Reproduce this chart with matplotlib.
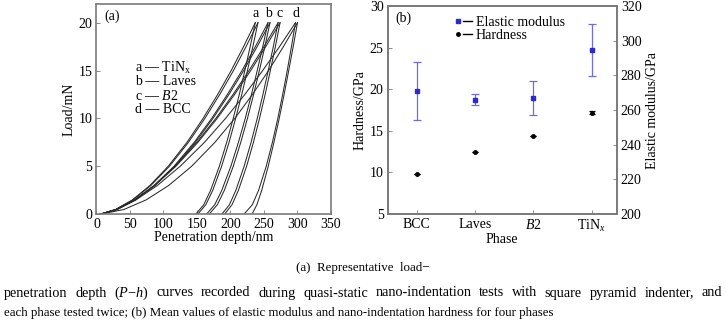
import matplotlib
matplotlib.use("Agg")
import matplotlib.pyplot as plt
from matplotlib.lines import Line2D
from matplotlib.legend_handler import HandlerTuple

plt.rcParams['font.family'] = ['Liberation Serif', 'DejaVu Serif']
plt.rcParams['mathtext.fontset'] = 'custom'
plt.rcParams['mathtext.rm'] = 'Liberation Serif'
plt.rcParams['mathtext.it'] = 'Liberation Serif:italic'
plt.rcParams['font.size'] = 10

# ---------------- Panel (a) data: load-depth curves ----------------
load_P = [0, 0.5, 1.5, 3, 5, 7.5, 10, 12.5, 15, 17.5, 20]
load_a1 = [5, 28.4, 53.5, 79.6, 106.9, 134.9, 159.0, 180.8, 201.0, 219.5, 237]
load_a2 = [5, 28.9, 54.4, 81.0, 108.7, 137.1, 161.7, 183.9, 204.4, 223.2, 241]
load_b1 = [5, 30.7, 57.8, 86.0, 115.5, 145.7, 171.8, 195.3, 217.1, 237.1, 256]
load_b2 = [5, 31.1, 58.4, 87.0, 116.8, 147.4, 173.8, 197.6, 219.6, 239.8, 259]
load_c1 = [5, 29.0, 56.4, 85.9, 117.1, 149.6, 178.0, 203.8, 227.6, 249.9, 271]
load_c2 = [5, 29.3, 57.0, 86.9, 118.4, 151.2, 180.0, 206.0, 230.2, 252.6, 274]
load_d1 = [5, 29.6, 58.8, 90.6, 124.7, 161.0, 192.5, 221.3, 248.0, 273.2, 297]
load_d2 = [5, 40.8, 74.0, 107.6, 141.8, 176.6, 206.3, 232.7, 256.8, 279.0, 300]

unload_P = [0, 1, 2.5, 5, 7.5, 10, 12.5, 15, 17.5, 20]
unload_a1 = [148, 160.1, 170.3, 183.3, 194.3, 204.1, 213.1, 221.4, 229.4, 237]
unload_a2 = [151, 163.2, 173.5, 186.7, 197.8, 207.7, 216.8, 225.3, 233.4, 241]
unload_b1 = [164, 176.5, 187.0, 200.5, 211.8, 222.0, 231.3, 239.9, 248.2, 256]
unload_b2 = [168, 180.4, 190.8, 204.1, 215.3, 225.3, 234.5, 243.1, 251.3, 259]
unload_c1 = [187, 198.4, 208.0, 220.3, 230.7, 239.9, 248.4, 256.3, 263.9, 271]
unload_c2 = [191, 202.3, 211.8, 224.0, 234.2, 243.3, 251.7, 259.5, 267.0, 274]
unload_d1 = [220, 232.6, 241.9, 253.3, 262.5, 270.6, 277.9, 284.7, 291.0, 297]
unload_d2 = [232, 239.4, 246.6, 256.3, 264.8, 272.7, 280.0, 286.9, 293.6, 300]

curve_letters = ['a', 'b', 'c', 'd']
letter_h = [238, 257, 273, 298]
legend_a = ['a — TiN$_\\mathregular{x}$', 'b — Laves', 'c — $\\it{B}$2', 'd — BCC']

# ---------------- Panel (b) data ----------------
phases = ['BCC', 'Laves', '$\\it{B}$2', 'TiN$_{\\it{x}}$']
modulus = [271, 266, 267, 294.6]
modulus_err = [16.5, 3.3, 10, 15]
hardness = [9.78, 12.5, 14.4, 17.17]
hardness_err = [0, 0, 0, 0.2]

caption1 = '(a)  Representative  load−'
caption2 = ('penetration depth ($\\it{P}$−$\\it{h}$) curves recorded during quasi-static '
            'nano-indentation tests with square pyramid indenter, and')
caption3 = ('each phase tested twice; (b) Mean values of elastic modulus and '
            'nano-indentation hardness for four phases')

W, H = 726, 332
fig = plt.figure(figsize=(W / 100, H / 100), dpi=100)
frame_col = '#7a7a7a'
line_col = '#2a2a2a'

# ---- panel (a)
axa = fig.add_axes([0.1329, 0.3545, 0.323, 0.632])
loads = [load_a1, load_a2, load_b1, load_b2, load_c1, load_c2, load_d1, load_d2]
unloads = [unload_a1, unload_a2, unload_b1, unload_b2, unload_c1, unload_c2, unload_d1, unload_d2]
for hl, hu in zip(loads, unloads):
    axa.plot(hl, load_P, color=line_col, lw=0.75)
    axa.plot(hu, unload_P, color=line_col, lw=0.75)
axa.set_xlim(0, 350)
axa.set_ylim(0, 21.9)
axa.set_xticks([0, 50, 100, 150, 200, 250, 300, 350])
axa.set_yticks([0, 5, 10, 15, 20])
axa.tick_params(direction='in', length=3, width=0.6, color=frame_col, labelsize=10, pad=3)
axa.set_xlabel('Penetration depth/nm', fontsize=10, labelpad=0)
axa.set_ylabel('Load/mN', fontsize=10, labelpad=2)
for s in axa.spines.values():
    s.set_color(frame_col)
    s.set_linewidth(1.2)
for L, h in zip(curve_letters, letter_h):
    axa.text(h, 20.3, L, ha='center', va='bottom', fontsize=10)
axa.text(0.035, 0.975, '(a)', transform=axa.transAxes, ha='left', va='top', fontsize=10)
for i, t in enumerate(legend_a):
    axa.text(58, 15.3 - i * 1.45, t, ha='left', va='center', fontsize=10)

# ---- panel (b)
axb = fig.add_axes([0.534, 0.3554, 0.3154, 0.626])
axr = axb.twinx()
x = list(range(len(phases)))
axr.errorbar(x, modulus, yerr=modulus_err, fmt='s', ms=2.5, color='#2a2ad0',
             ecolor='#6d6de0', elinewidth=0.9, capsize=3, capthick=0.9)
axb.errorbar(x, hardness, yerr=hardness_err, fmt='o', ms=2.5, color='black',
             ecolor='black', elinewidth=0.9, capsize=2, capthick=0.9)
axb.set_xlim(-0.5, 3.43)
axb.set_ylim(5, 30)
axr.set_ylim(200, 320)
axb.set_xticks(x)
axb.set_xticklabels(phases)
axb.set_yticks([5, 10, 15, 20, 25, 30])
axr.set_yticks([200, 220, 240, 260, 280, 300, 320])
axb.tick_params(direction='in', length=3, width=0.6, color=frame_col, labelsize=10, pad=3)
axr.tick_params(direction='in', length=3, width=0.6, color=frame_col, labelsize=10, pad=3)
axb.set_xlabel('Phase', fontsize=10, labelpad=-1)
axb.set_ylabel('Hardness/GPa', fontsize=10, labelpad=2)
axr.set_ylabel('Elastic modulus/GPa', fontsize=10, labelpad=3)
for ax in (axb, axr):
    for s in ax.spines.values():
        s.set_color(frame_col)
        s.set_linewidth(1.2)
axb.text(0.035, 0.975, '(b)', transform=axb.transAxes, ha='left', va='top', fontsize=10)

h1m = Line2D([], [], marker='s', ms=2.5, color='#2a2ad0', ls='none')
h1l = Line2D([], [], color='black', lw=1.0)
h2m = Line2D([], [], marker='o', ms=2.5, color='black', ls='none')
h2l = Line2D([], [], color='black', lw=1.0)
axb.legend([(h1m, h1l), (h2m, h2l)], ['Elastic modulus', 'Hardness'],
           handler_map={tuple: HandlerTuple(ndivide=None, pad=0.0)},
           loc='upper left', bbox_to_anchor=(0.245, 1.0), frameon=False,
           fontsize=10, handlelength=1.3, handletextpad=0.3, labelspacing=0.0,
           borderaxespad=0.3)

# ---- caption
cap_fs = 9.3
fig.text(0.5, 1 - 268 / H, caption1, ha='center', va='center', fontsize=cap_fs)
fig.text(4 / W, 1 - 313 / H, caption3, ha='left', va='center', fontsize=cap_fs)

# justified caption line 2 (spread words between x=4 and x=722 px)
renderer = fig.canvas.get_renderer()
x0, x1 = 4.0, 722.0
probe = fig.text(0, 0, caption2, fontsize=cap_fs)
nat = probe.get_window_extent(renderer).width
probe.remove()
fs2 = cap_fs * ((x1 - x0) / nat) ** 0.6
words = caption2.split(' ')
objs = [fig.text(0, 1 - 293 / H, w, ha='left', va='center', fontsize=fs2) for w in words]
widths = [o.get_window_extent(renderer).width for o in objs]
gap = (x1 - x0 - sum(widths)) / (len(words) - 1)
pos = x0
for o, wdt in zip(objs, widths):
    o.set_x(pos / W)
    pos += wdt + gap

fig.savefig('out.png', dpi=100)
